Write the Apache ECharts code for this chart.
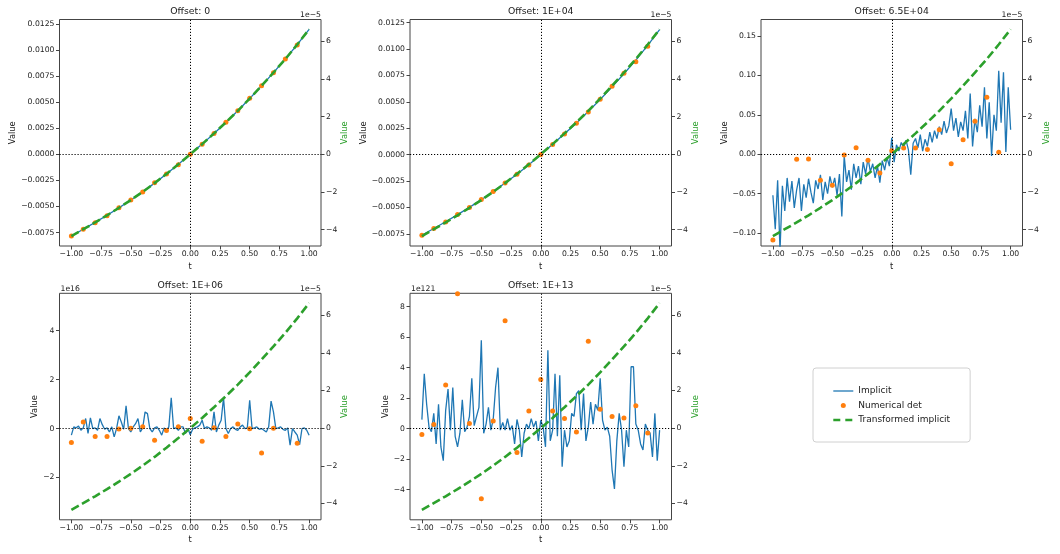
<!DOCTYPE html>
<html>
<head>
<meta charset="utf-8">
<script src="https://cdn.jsdelivr.net/npm/echarts@6/dist/echarts.min.js"></script>
<style>
  html, body { margin: 0; padding: 0; background: #fff; }
  #chart { width: 1060px; height: 554px; }
</style>
</head>
<body>
<div id="chart"></div>
<script>
// sample grids
var T21 = [-1, -0.9, -0.8, -0.7, -0.6, -0.5, -0.4, -0.3, -0.2, -0.1, 0,
  0.1, 0.2, 0.3, 0.4, 0.5, 0.6, 0.7, 0.8, 0.9, 1];
var T101 = [-1, -0.98, -0.96, -0.94, -0.92, -0.9, -0.88, -0.86, -0.84, -0.82,
  -0.8, -0.78, -0.76, -0.74, -0.72, -0.7, -0.68, -0.66, -0.64, -0.62,
  -0.6, -0.58, -0.56, -0.54, -0.52, -0.5, -0.48, -0.46, -0.44, -0.42,
  -0.4, -0.38, -0.36, -0.34, -0.32, -0.3, -0.28, -0.26, -0.24, -0.22,
  -0.2, -0.18, -0.16, -0.14, -0.12, -0.1, -0.08, -0.06, -0.04, -0.02,
  0, 0.02, 0.04, 0.06, 0.08, 0.1, 0.12, 0.14, 0.16, 0.18,
  0.2, 0.22, 0.24, 0.26, 0.28, 0.3, 0.32, 0.34, 0.36, 0.38,
  0.4, 0.42, 0.44, 0.46, 0.48, 0.5, 0.52, 0.54, 0.56, 0.58,
  0.6, 0.62, 0.64, 0.66, 0.68, 0.7, 0.72, 0.74, 0.76, 0.78,
  0.8, 0.82, 0.84, 0.86, 0.88, 0.9, 0.92, 0.94, 0.96, 0.98, 1];

// Transformed implicit (right axis, x1e-5), same in every panel
var transformed = [-4.34, -3.98, -3.62, -3.24, -2.84, -2.43, -1.99, -1.53, -1.04, -0.53, 0,
  0.54, 1.11, 1.70, 2.31, 2.96, 3.64, 4.34, 5.06, 5.83, 6.64];

// Offset 0
var implicit0 = [-0.00783, -0.00718, -0.00652, -0.00584, -0.00513, -0.00438, -0.00360, -0.00276, -0.00188, -0.00096, 0,
  0.00098, 0.00200, 0.00306, 0.00418, 0.00535, 0.00657, 0.00783, 0.00914, 0.01052, 0.01199];
var numdet0 = [-0.00783, -0.00719, -0.00656, -0.00589, -0.00512, -0.00438, -0.00362, -0.00272, -0.00189, -0.00100, 0,
  0.00096, 0.00201, 0.00307, 0.00418, 0.00537, 0.00658, 0.00783, 0.00914, 0.01048, null];

// Offset 1E+04
var implicit1 = [-0.00764, -0.00700, -0.00636, -0.00569, -0.00500, -0.00427, -0.00350, -0.00270, -0.00186, -0.00096, 0,
  0.00097, 0.00197, 0.00300, 0.00408, 0.00522, 0.00642, 0.00766, 0.00895, 0.01035, 0.01184];
var numdet1 = [-0.00764, -0.00701, -0.00638, -0.00568, -0.00502, -0.00426, -0.00350, -0.00269, -0.00187, -0.00098, 0,
  0.00095, 0.00195, 0.00296, 0.00403, 0.00524, 0.00647, 0.00770, 0.00880, 0.01026, null];

// Offset 6.5E+04
var implicit2 = [-0.052, -0.095, -0.033, -0.122, -0.040, -0.072, -0.030, -0.060, -0.034, -0.068,
  -0.045, -0.030, -0.072, -0.038, -0.055, -0.031, -0.048, -0.062, -0.033, -0.044,
  -0.026, -0.058, -0.035, -0.050, -0.028, -0.042, -0.030, -0.052, -0.025, -0.079,
  -0.002, -0.035, -0.020, -0.045, -0.012, -0.030, -0.015, -0.038, -0.010, -0.025,
  -0.005, -0.022, -0.012, -0.030, -0.015, -0.036, -0.008, -0.020, -0.004, -0.015,
  0.021, -0.010, 0.012, 0.004, 0.015, 0.008, 0.018, 0.006, -0.026, 0.014,
  0.020, 0.008, 0.025, 0.004, 0.019, 0.010, 0.028, 0.015, 0.030, 0.020,
  0.035, 0.025, 0.042, 0.027, 0.036, 0.058, 0.030, 0.046, 0.022, 0.041,
  0.030, 0.055, 0.020, 0.077, 0.010, 0.045, 0.028, 0.062, 0.035, 0.085,
  0.020, 0.066, -0.002, 0.050, 0.030, 0.106, 0.040, 0.104, 0.003, 0.085,
  0.031];
var numdet2 = [-0.1087, null, -0.0064, -0.0060, -0.0330, -0.0393, -0.0010, 0.0084, -0.0076, -0.0237, 0.0046,
  0.0080, 0.0080, 0.0060, 0.0312, -0.0119, 0.0185, 0.0418, 0.0723, 0.0025, null];

// Offset 1E+06 (x1e16)
var implicit3 = [-0.27, 0.07, 0.03, 0.10, -0.07, 0.03, 0.41, -0.20, 0.44, 0,
  0.03, -0.07, 0.41, 0.16, -0.03, 0.03, -0.14, 0.07, -0.34, 0,
  0.52, 0.27, -0.03, 0.93, 0, -0.14, 0.07, 0.20, 0.41, -0.14,
  0.03, 0.68, 0.61, 0, -0.14, 0.03, 0.07, -0.07, -0.27, 0.03,
  -0.07, 0.07, 1.26, 0, 0.03, -0.07, 0.07, 0.07, -0.20, 0,
  -0.25, -0.03, 0.03, 0.07, 0.14, 0.34, 0, 0.07, 0.03, -0.07,
  0.68, -0.14, 0.14, 0.34, 1.26, 0, -0.20, 0, 0.07, -0.03,
  -0.07, 0.07, 0.14, 0, 0.03, 1.16, 0, 0.03, 0.07, -0.03,
  0, -0.07, -0.14, 0.07, 1.12, 0.68, 0, 0.03, 0.07, -0.03,
  -0.07, 0.03, -0.68, 0, -0.14, -0.27, -0.66, 0, 0.03, -0.07,
  -0.27];
var numdet3 = [-0.57, 0.27, -0.32, -0.32, -0.02, 0.01, 0.07, -0.48, -0.08, 0.07, 0.41,
  -0.52, 0.03, -0.32, 0.19, -0.01, -1.00, 0.01, null, -0.60, null];

// Offset 1E+13 (x1e121)
var implicit4 = [0.59, 3.6, 1.6, 0.1, -0.2, 1.0, -1.0, 1.6, -1.2, -2.1,
  1.2, 2.6, -0.1, 2.7, -0.5, -1.2, -0.3, 1.9, -0.2, 0.1,
  0.8, 3.3, 0.2, 0.8, 1.4, 5.8, -0.3, 0.3, 1.4, -0.1,
  0.6, 2.7, 4.0, -0.1, 0.4, -0.1, 0.66, -0.1, 0.2, -1.0,
  0.6, -0.1, -1.86, -0.3, 0.3, 0.0, 0.66, 0.1, 0.5, -0.8,
  0.55, 0.1, -1.2, 5.15, -0.8, -0.1, 3.6, -0.5, 3.5, -2.5,
  -0.1, -1.2, -0.8, 1.0, 0.8, 2.3, 2.5, -0.1, 2.3, -0.8,
  0.1, 1.75, 0.3, 1.6, 1.2, 3.3, 0.55, -0.1, 0.1, -0.5,
  -2.7, -3.95, -0.8, 1.0, -0.1, -2.5, -0.1, -1.2, 4.06, 4.06,
  0.3, -0.1, -1.0, -1.4, 0.3, -0.1, -0.3, -1.86, 1.0, -2.1,
  -0.1];
var numdet4 = [-0.39, 0.28, 2.87, 8.85, 0.33, -4.60, 0.50, 7.08, -1.56, 1.16, 3.22,
  1.16, 0.66, -0.22, 5.74, 1.27, 0.79, 0.70, 1.51, -0.29, null];

// tick labels
var xTicks = [-1, -0.75, -0.5, -0.25, 0, 0.25, 0.5, 0.75, 1];
var rightTicks = [-4, -2, 0, 2, 4, 6];
var smallTicks = [-0.0075, -0.005, -0.0025, 0, 0.0025, 0.005, 0.0075, 0.01, 0.0125];
var midTicks = [-0.1, -0.05, 0, 0.05, 0.1, 0.15];
var e16Ticks = [-2, 0, 2, 4];
var e121Ticks = [-4, -2, 0, 2, 4, 6, 8];

var FONT = 'DejaVu Sans';
var INK = '#222';
var SPINE = '#444';
var BLUE = '#1f77b4', ORANGE = '#ff7f0e', GREEN = '#2ca02c';
var DASH = [8.5, 3.7];
var colLeft = [59.5, 410, 761];
var rowTop = [19.5, 293.3];
var W = 261.5, H = 226.5;

var panels = [
  { title: 'Offset: 0', c: 0, r: 0, t: T21, imp: implicit0, num: numdet0,
    min: -0.00879, max: 0.01293, ticks: smallTicks, dec: 4, gap: 40, exp: null },
  { title: 'Offset: 1E+04', c: 1, r: 0, t: T21, imp: implicit1, num: numdet1,
    min: -0.00866, max: 0.0128, ticks: smallTicks, dec: 4, gap: 40, exp: null },
  { title: 'Offset: 6.5E+04', c: 2, r: 0, t: T101, imp: implicit2, num: numdet2,
    min: -0.1163, max: 0.1709, ticks: midTicks, dec: 2, gap: 32, exp: null },
  { title: 'Offset: 1E+06', c: 0, r: 1, t: T101, imp: implicit3, num: numdet3,
    min: -3.73, max: 5.53, ticks: e16Ticks, dec: 0, gap: 19, exp: '1e16' },
  { title: 'Offset: 1E+13', c: 1, r: 1, t: T101, imp: implicit4, num: numdet4,
    min: -5.98, max: 8.88, ticks: e121Ticks, dec: 0, gap: 19, exp: '1e121' }
];

function fmt(v, d) {
  return v.toFixed(d).replace('-', '\u2212');
}
function pairs(ts, vs) {
  return ts.map(function (t, i) { return [t, vs[i]]; });
}

var grids = [], xAxes = [], yAxes = [], series = [], titles = [], graphics = [];

panels.forEach(function (p, k) {
  var left = colLeft[p.c], top = rowTop[p.r];
  grids.push({ left: left, top: top, width: W, height: H, show: true,
    borderColor: SPINE, borderWidth: 1, backgroundColor: 'transparent' });

  titles.push({ text: p.title, left: left + W / 2, top: top - 13, textAlign: 'center', padding: 0,
    textStyle: { fontFamily: FONT, fontSize: 9.3, fontWeight: 'normal', color: INK, lineHeight: 11 } });

  xAxes.push({
    gridIndex: k, type: 'value', min: -1.1, max: 1.1,
    axisLine: { show: false, onZero: false },
    splitLine: { show: false },
    axisTick: { show: true, length: 3.5, lineStyle: { color: SPINE }, customValues: xTicks },
    axisLabel: { customValues: xTicks, formatter: function (v) { return fmt(v, 2); },
      fontFamily: FONT, fontSize: 7.7, color: INK, margin: 4.5 },
    name: 't', nameLocation: 'middle', nameGap: 16.5,
    nameTextStyle: { fontFamily: FONT, fontSize: 8.3, color: INK }
  });

  yAxes.push({
    gridIndex: k, type: 'value', position: 'left', min: p.min, max: p.max,
    axisLine: { show: false, onZero: false },
    splitLine: { show: false },
    axisTick: { show: true, length: 3.5, lineStyle: { color: SPINE }, customValues: p.ticks },
    axisLabel: { customValues: p.ticks, formatter: function (v) { return fmt(v, p.dec); },
      fontFamily: FONT, fontSize: 7.7, color: INK, margin: 5 },
    name: 'Value', nameLocation: 'middle', nameGap: p.gap,
    nameTextStyle: { fontFamily: FONT, fontSize: 8.3, color: INK }
  });
  yAxes.push({
    gridIndex: k, type: 'value', position: 'right', min: -4.87, max: 7.16,
    axisLine: { show: false, onZero: false },
    splitLine: { show: false },
    axisTick: { show: true, length: 3.5, lineStyle: { color: SPINE }, customValues: rightTicks },
    axisLabel: { customValues: rightTicks, formatter: function (v) { return fmt(v, 0); },
      fontFamily: FONT, fontSize: 7.7, color: INK, margin: 5 },
    name: 'Value', nameLocation: 'middle', nameGap: 18,
    nameTextStyle: { fontFamily: FONT, fontSize: 8.3, color: GREEN }
  });

  series.push({
    type: 'line', name: 'Implicit', xAxisIndex: k, yAxisIndex: 2 * k,
    data: pairs(p.t, p.imp), symbol: 'none', z: 2,
    lineStyle: { color: BLUE, width: 1.3 }, itemStyle: { color: BLUE },
    markLine: {
      silent: true, symbol: 'none', label: { show: false }, animation: false,
      lineStyle: { color: '#000', type: [1.2, 1.8], width: 1 },
      data: [{ xAxis: 0 }, { yAxis: 0 }]
    }
  });
  series.push({
    type: 'scatter', name: 'Numerical det', xAxisIndex: k, yAxisIndex: 2 * k,
    data: pairs(T21, p.num), symbolSize: 5, z: 3,
    itemStyle: { color: ORANGE, opacity: 1 }
  });
  series.push({
    type: 'line', name: 'Transformed implicit', xAxisIndex: k, yAxisIndex: 2 * k + 1,
    data: pairs(T21, transformed), symbol: 'none', z: 4,
    lineStyle: { color: GREEN, width: 2.6, type: DASH }, itemStyle: { color: GREEN }
  });

  // axis offset texts, matplotlib style
  graphics.push({ type: 'text', x: left + W, y: top - 4.5,
    style: { text: '1e\u22125', align: 'right', verticalAlign: 'middle',
      font: '7.7px "' + FONT + '"', fill: INK } });
  if (p.exp) {
    graphics.push({ type: 'text', x: left + 1, y: top - 4.5,
      style: { text: p.exp, align: 'left', verticalAlign: 'middle',
        font: '7.7px "' + FONT + '"', fill: INK } });
  }
});

var chart = echarts.init(document.getElementById('chart'), null, { renderer: 'canvas' });
chart.setOption({
  animation: false,
  backgroundColor: '#fff',
  title: titles,
  grid: grids,
  xAxis: xAxes,
  yAxis: yAxes,
  series: series,
  graphic: graphics,
  legend: {
    orient: 'vertical', left: 813, top: 368,
    padding: [18, 20, 17, 19],
    itemWidth: 20, itemHeight: 5, itemGap: 4.5,
    borderColor: '#d0d0d0', borderWidth: 1, borderRadius: 3, backgroundColor: '#fff',
    textStyle: { fontFamily: FONT, fontSize: 9, lineHeight: 10, color: INK },
    data: [
      { name: 'Implicit', itemStyle: { opacity: 0 },
        lineStyle: { color: BLUE, width: 1.3, type: 'solid' } },
      { name: 'Numerical det' },
      { name: 'Transformed implicit', itemStyle: { opacity: 0 },
        lineStyle: { color: GREEN, width: 2.6, type: [7, 5] } }
    ]
  }
});
</script>
</body>
</html>
